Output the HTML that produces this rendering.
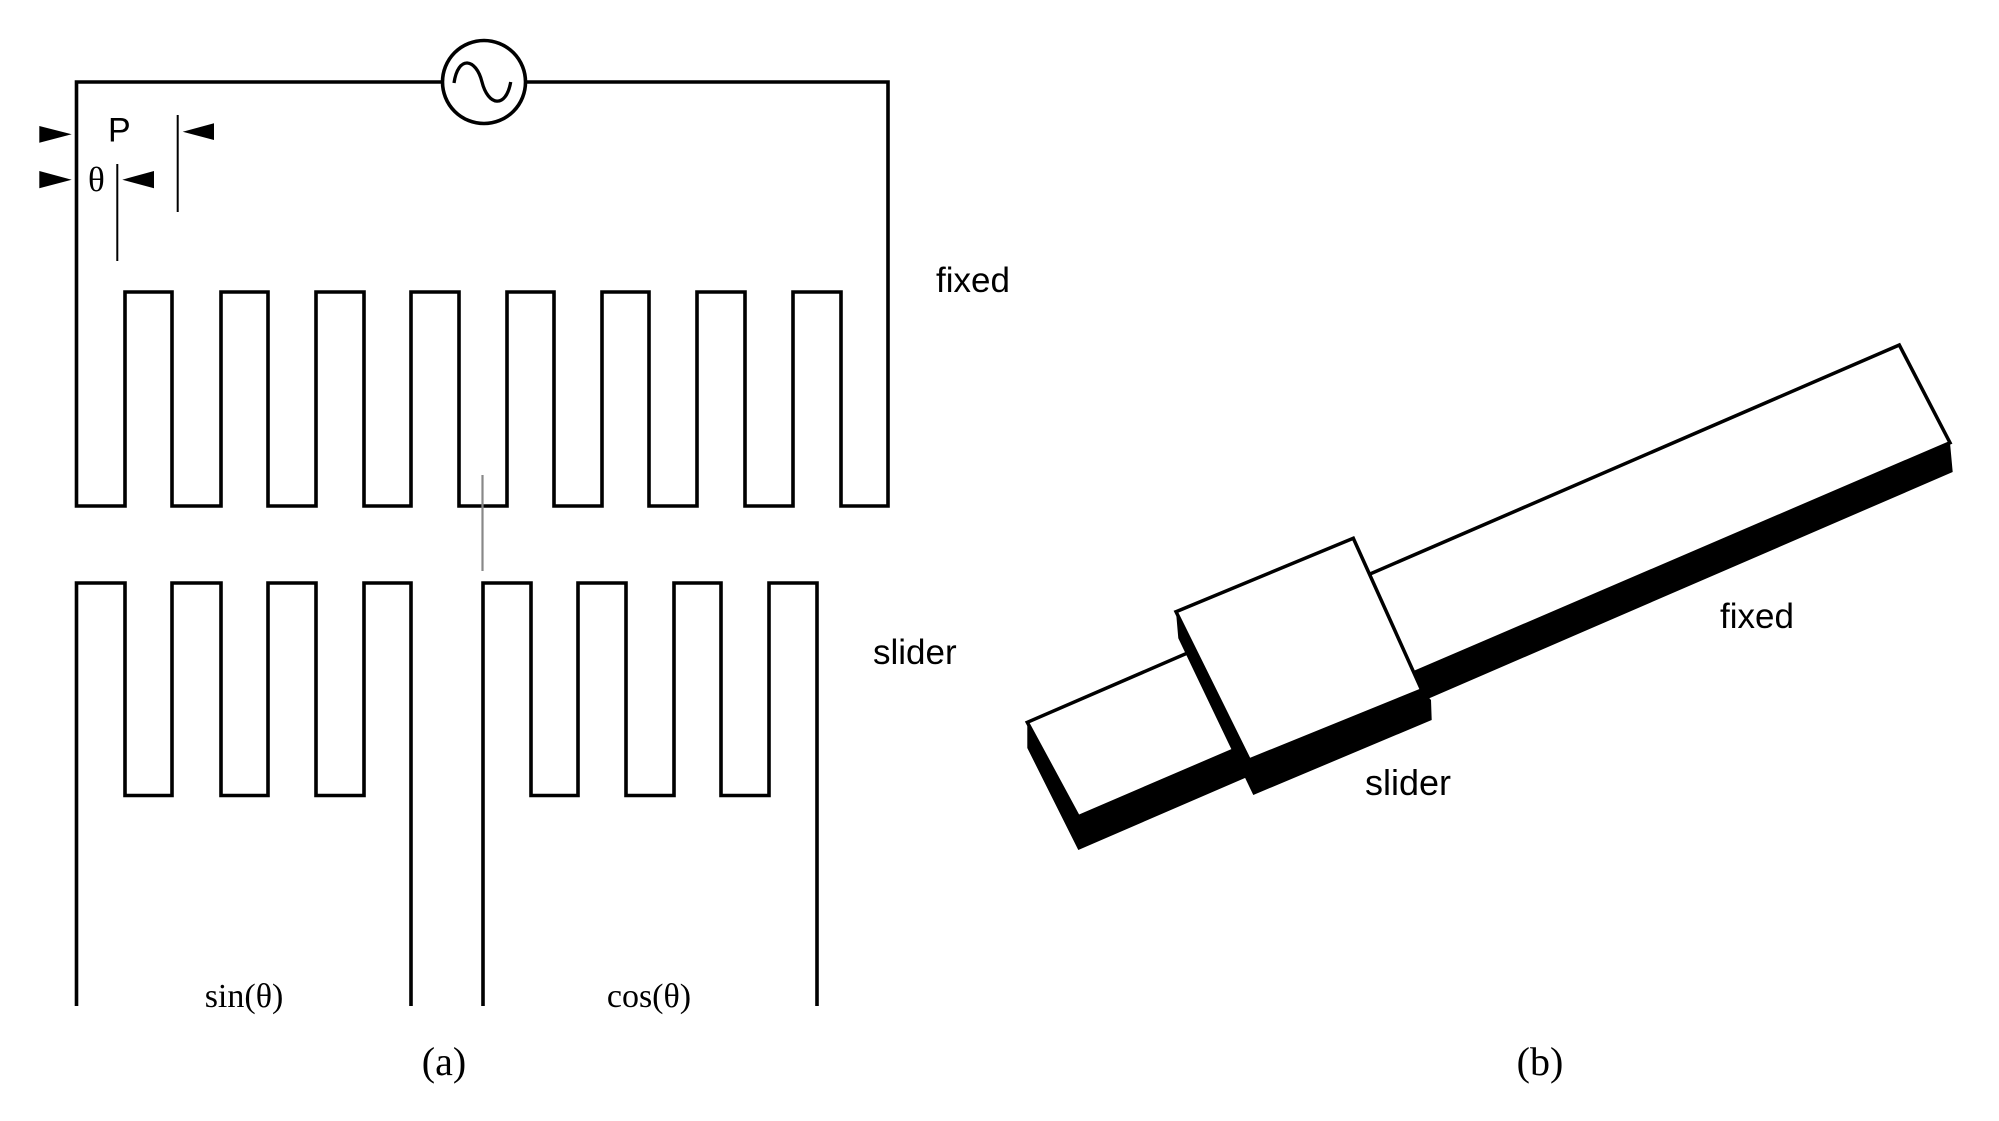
<!DOCTYPE html>
<html>
<head>
<meta charset="utf-8">
<style>
  html,body{margin:0;padding:0;background:#fff;}
  svg{display:block;}
  .sans{font-family:"Liberation Sans",Arial,sans-serif;}
  .serif{font-family:"Liberation Serif","Times New Roman",serif;}
</style>
</head>
<body>
<svg width="1999" height="1121" viewBox="0 0 1999 1121" xmlns="http://www.w3.org/2000/svg">
  <rect x="0" y="0" width="1999" height="1121" fill="#fff"/>

  <!-- (a) fixed comb + circuit -->
  <path d="M 442 82 H 76.5 V 506 H 125 V 292 H 172 V 506 H 221 V 292 H 268 V 506 H 316 V 292 H 364 V 506 H 411 V 292 H 459 V 506 H 507 V 292 H 554 V 506 H 602 V 292 H 649 V 506 H 697 V 292 H 745 V 506 H 793 V 292 H 841 V 506 H 888 V 82 H 526"
        fill="none" stroke="#000" stroke-width="3.6" stroke-linejoin="miter"/>
  <circle cx="484" cy="82" r="41.5" fill="#fff" stroke="#000" stroke-width="3.6"/>
  <path d="M 454 83 C 458 55, 476 58, 482 82 C 488 106, 506 109, 510.7 82" fill="none" stroke="#000" stroke-width="3.3"/>

  <!-- dimension marks -->
  <polygon points="39.3,126 39.3,142.7 71.7,134.3" fill="#000"/>
  <polygon points="214,123.3 214,140 182.7,131.7" fill="#000"/>
  <polygon points="39.3,171 39.3,188.3 71.7,179.7" fill="#000"/>
  <polygon points="154,171 154,188.3 122.3,179.7" fill="#000"/>
  <line x1="177.7" y1="115" x2="177.7" y2="212" stroke="#000" stroke-width="2"/>
  <line x1="117.3" y1="164" x2="117.3" y2="261" stroke="#000" stroke-width="2"/>
  <text x="108" y="141.7" class="sans" font-size="34">P</text>
  <text x="88" y="191" class="serif" font-size="35">θ</text>

  <!-- gray alignment line -->
  <line x1="482.5" y1="475" x2="482.5" y2="571" stroke="#888" stroke-width="2.2"/>

  <!-- slider combs -->
  <path d="M 76.5 1006 V 583 H 125 V 795.5 H 172 V 583 H 221 V 795.5 H 268 V 583 H 316 V 795.5 H 364 V 583 H 411 V 1006"
        fill="none" stroke="#000" stroke-width="3.6"/>
  <path d="M 483 1006 V 583 H 531 V 795.5 H 578 V 583 H 626 V 795.5 H 674 V 583 H 721 V 795.5 H 769 V 583 H 817 V 1006"
        fill="none" stroke="#000" stroke-width="3.6"/>

  <text x="936" y="292" class="sans" font-size="35">fixed</text>
  <text x="873" y="664" class="sans" font-size="35">slider</text>
  <text x="244" y="1007" class="serif" font-size="34" text-anchor="middle">sin(θ)</text>
  <text x="649" y="1007" class="serif" font-size="34" text-anchor="middle">cos(θ)</text>
  <text x="444" y="1075" class="serif" font-size="40" text-anchor="middle">(a)</text>

  <!-- (b) fixed bar -->
  <polygon points="1027.3,722.3 1027.3,748 1078.3,850 1952.7,472 1950,442.7 1078.3,816.7" fill="#000"/>
  <polygon points="1027.3,722.3 1899.3,345 1950,442.7 1078.3,816.7" fill="#fff" stroke="#000" stroke-width="3.5" stroke-linejoin="miter"/>

  <!-- slider block -->
  <polygon points="1176,611.7 1178.3,638.3 1253.3,795 1431.7,720 1431,700 1421.7,690 1249.3,760" fill="#000"/>
  <polygon points="1176,611.7 1353.3,538.3 1421.7,690 1249.3,760" fill="#fff" stroke="#000" stroke-width="3.5" stroke-linejoin="miter"/>

  <text x="1720" y="628" class="sans" font-size="35">fixed</text>
  <text x="1365" y="795" class="sans" font-size="36">slider</text>
  <text x="1540" y="1075" class="serif" font-size="40" text-anchor="middle">(b)</text>
</svg>
</body>
</html>
